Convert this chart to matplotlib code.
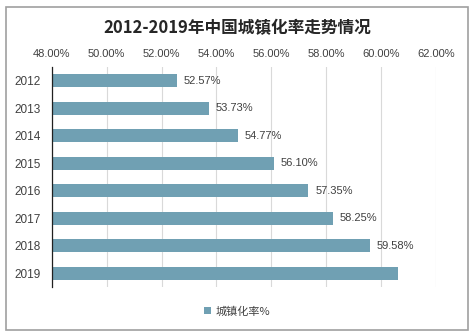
import matplotlib.pyplot as plt
from matplotlib.patches import Rectangle
from matplotlib.ticker import FuncFormatter

plt.rcParams['font.family'] = ['Liberation Sans', 'Noto Sans CJK SC', 'DejaVu Sans']

years = ["2012", "2013", "2014", "2015", "2016", "2017", "2018", "2019"]
rates = [52.57, 53.73, 54.77, 56.10, 57.35, 58.25, 59.58, 60.60]
labels = ["52.57%", "53.73%", "54.77%", "56.10%", "57.35%", "58.25%", "59.58%", ""]
x_ticks = [48, 50, 52, 54, 56, 58, 60, 62]

bar_color = "#70a0b3"

fig = plt.figure(figsize=(4.74, 3.35), dpi=100)
ax = fig.add_axes([51.7 / 474, 1 - 287 / 335, (436 - 51.7) / 474, 220 / 335])

# outer frame
fig.patches.append(Rectangle((6 / 474, 5 / 335), 462 / 474, 323 / 335,
                             transform=fig.transFigure, fill=False,
                             edgecolor="#a0a0a0", linewidth=1.2))

pos = list(range(len(years)))
ax.barh(pos, [r - 48 for r in rates], left=48, height=0.48, color=bar_color,
        zorder=2, label="城镇化率%")
for p, r, t in zip(pos, rates, labels):
    if t:
        ax.text(r + 0.25, p, t, va="center", ha="left", fontsize=8, color="#404040")

ax.set_xlim(48, 62)
ax.set_ylim(len(years) - 0.5, -0.5)
ax.set_xticks(x_ticks)
ax.xaxis.set_major_formatter(FuncFormatter(lambda v, _: f"{v:.2f}%"))
ax.xaxis.tick_top()
ax.set_yticks(pos)
ax.set_yticklabels(years)
ax.tick_params(axis="x", length=0, labelsize=8, labelcolor="#404040", pad=6)
ax.tick_params(axis="y", length=0, labelsize=8.5, labelcolor="#404040", pad=8)
ax.grid(axis="x", color="#d9d9d9", linewidth=0.8, zorder=0)
for s in ["top", "right", "bottom"]:
    ax.spines[s].set_visible(False)
ax.spines["left"].set_color("#202020")
ax.spines["left"].set_linewidth(0.9)
ax.spines["left"].set_zorder(3)

fig.text(0.5, 1 - 28 / 335, "2012-2019年中国城镇化率走势情况", ha="center", va="center",
         fontsize=12, fontweight="bold", color="#262626",
         family=["Noto Sans CJK SC", "DejaVu Sans"])

fig.legend(loc="center", bbox_to_anchor=(0.5, 1 - 311.5 / 335), frameon=False,
           fontsize=8, handlelength=0.6, handleheight=0.6, handletextpad=0.4,
           labelcolor="#404040", prop={"family": ["Noto Sans CJK SC"], "size": 8})

fig.savefig("out.png", dpi=100)
